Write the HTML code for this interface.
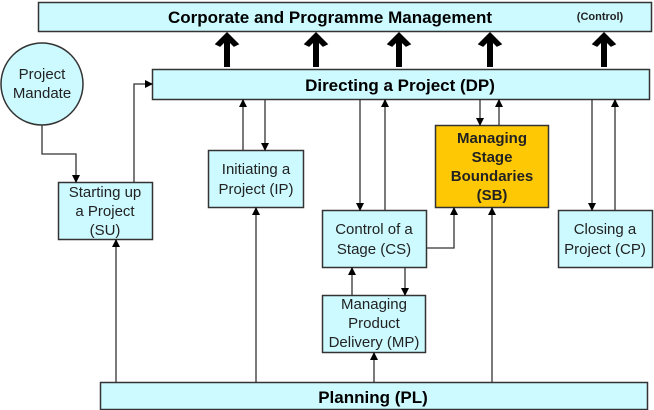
<!DOCTYPE html>
<html><head><meta charset="utf-8"><style>
body{margin:0;background:#fff;}
svg{display:block;}
svg text{font-family:"Liberation Sans",Arial,Helvetica,sans-serif;}
</style></head><body>
<svg width="654" height="410" viewBox="0 0 654 410" xmlns="http://www.w3.org/2000/svg">
<defs>
<marker id="a" markerWidth="8" markerHeight="8" refX="7" refY="4" orient="auto" markerUnits="userSpaceOnUse">
<path d="M0,0 L8,4 L0,8 z" fill="#000"/></marker>
<g id="big"><rect x="-3" y="8" width="6" height="28" fill="#000"/><path d="M-11,13 L0,2 L11,13 L7,15 L0,8 L-7,15 z" fill="#000" stroke="#000" stroke-width="1.5"/></g>
</defs>
<g stroke="#333" stroke-width="1.5" fill="#ccfaff">
<rect x="38.5" y="2.5" width="613" height="29"/>
<rect x="152.5" y="69.5" width="497" height="30"/>
<circle cx="42" cy="84" r="41"/>
<rect x="58.5" y="182.5" width="94" height="57"/>
<rect x="208.5" y="150.5" width="95" height="57"/>
<rect x="322.5" y="210.5" width="104" height="57"/>
<rect x="435.5" y="125.5" width="113" height="82" fill="#ffc805"/>
<rect x="558.5" y="210.5" width="94" height="57"/>
<rect x="322.5" y="295.5" width="103" height="57"/>
<rect x="100.5" y="382.5" width="547" height="27"/>
</g>
<use href="#big" x="227" y="31"/><use href="#big" x="316" y="31"/><use href="#big" x="399" y="31"/><use href="#big" x="490" y="31"/><use href="#big" x="604" y="31"/>
<g stroke="#333" stroke-width="1.3" fill="none" marker-end="url(#a)">
<path d="M42,125 V154 H76 V182"/>
<path d="M134,182 V84 H152"/>
<path d="M243,150 V100"/><path d="M265,100 V150"/>
<path d="M256,382 V208"/>
<path d="M360,100 V210"/><path d="M385,210 V100"/>
<path d="M480,100 V125"/><path d="M499,125 V100"/>
<path d="M427,248 H454 V208"/>
<path d="M492,382 V208"/>
<path d="M592,100 V210"/><path d="M615,210 V100"/>
<path d="M352,295 V268"/><path d="M405,268 V295"/>
<path d="M374,382 V353"/>
<path d="M116,382 V240"/>
</g>
<g font-size="17" font-weight="bold" fill="#000" text-anchor="middle">
<text x="330" y="23">Corporate and Programme Management</text>
<text x="400" y="91">Directing a Project (DP)</text>
<text x="373" y="403">Planning (PL)</text>
</g>
<text x="600" y="20" font-size="11" font-weight="bold" fill="#222" text-anchor="middle">(Control)</text>
<g font-size="15" fill="#222" text-anchor="middle">
<text x="42" y="79">Project</text><text x="42" y="98">Mandate</text>
<text x="105" y="197">Starting up</text><text x="105" y="216">a Project</text><text x="105" y="235">(SU)</text>
<text x="256" y="174">Initiating a</text><text x="256" y="194">Project (IP)</text>
<text x="374" y="234">Control of a</text><text x="374" y="254">Stage (CS)</text>
<text x="605" y="234">Closing a</text><text x="605" y="254">Project (CP)</text>
<text x="374" y="309">Managing</text><text x="374" y="328">Product</text><text x="374" y="347">Delivery (MP)</text>
</g>
<g font-size="15" font-weight="bold" fill="#222" text-anchor="middle">
<text x="492" y="143">Managing</text><text x="492" y="162">Stage</text><text x="492" y="181">Boundaries</text><text x="492" y="200">(SB)</text>
</g>
</svg>
</body></html>
